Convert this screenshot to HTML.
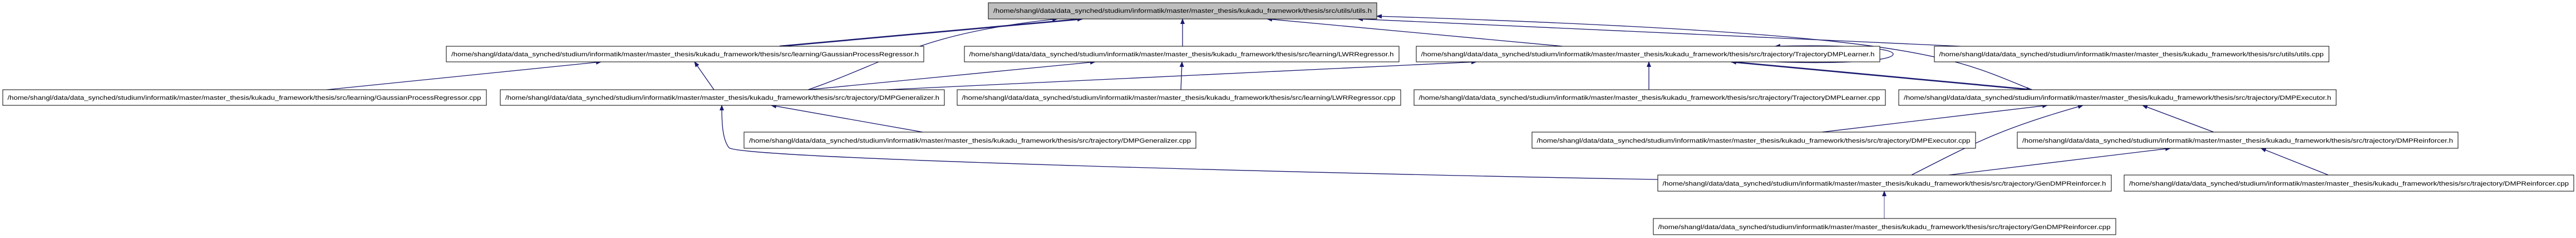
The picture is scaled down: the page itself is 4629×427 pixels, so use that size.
<!DOCTYPE html>
<html><head><meta charset="utf-8"><style>
html,body{margin:0;padding:0;background:#fff;width:4629px;height:427px;overflow:hidden}
text{font-family:"Liberation Sans",sans-serif;font-size:11px;fill:#000}
</style></head><body>
<svg width="4629" height="427" xmlns="http://www.w3.org/2000/svg">
<defs>
<marker id="a" markerWidth="10" markerHeight="8" refX="9" refY="4" orient="auto" markerUnits="userSpaceOnUse">
<path d="M0,0 L10,4 L0,8 z" fill="#191970"/></marker>
</defs>
<g fill="none" stroke="#191970" stroke-width="1.3" marker-end="url(#a)">
<path d="M1401,83 L1945,34" stroke-width="2.5"/>
<path d="M1452,161 C1600,110 1650,60 1900,34"/>
<path d="M2125,83 L2125,34"/>
<path d="M2808,83 L2277,34"/>
<path d="M3523,83 L2440,34"/>
<path d="M3651,161 C3500,100 3450,60 2474,29"/>
<path d="M587,161 L1080,111"/>
<path d="M1283,161 L1248,111"/>
<path d="M1452,161 L1968,111"/>
<path d="M1593,161 L2653,111"/>
<path d="M2122,161 L2124,111"/>
<path d="M2963,161 L2963,111"/>
<path d="M3651,161 L3111,111" stroke-width="2.5"/>
<path d="M3111,111 L3651,161" stroke-width="1.5"/>
<path d="M3190,111 C3300,115 3402,110 3402,97 C3402,85 3300,80 3190,83"/>
<path d="M1658,237 L1386,189"/>
<path d="M2979,322 C2400,312 1330,285 1310,265 C1298,250 1297,220 1297,189"/>
<path d="M3274,237 L3679,189"/>
<path d="M3435,314 C3560,250 3600,230 3743,189"/>
<path d="M3978,237 L3850,189"/>
<path d="M3502,314 L3900,266"/>
<path d="M4184,314 L4063,266"/>
<path d="M3386,392 L3386,343" stroke-width="0.8"/>
</g>
<g stroke="#000" stroke-width="1">
<rect x="1776" y="5" width="698" height="29" fill="#bfbfbf"/>
<rect x="802" y="83" width="858" height="28" fill="#fff"/>
<rect x="1733" y="83" width="781" height="28" fill="#fff"/>
<rect x="2545" y="83" width="833" height="28" fill="#fff"/>
<rect x="3476" y="83" width="709" height="28" fill="#fff"/>
<rect x="5" y="161" width="869" height="28" fill="#fff"/>
<rect x="899" y="161" width="798" height="28" fill="#fff"/>
<rect x="1720" y="161" width="797" height="28" fill="#fff"/>
<rect x="2541" y="161" width="847" height="28" fill="#fff"/>
<rect x="3412" y="161" width="786" height="28" fill="#fff"/>
<rect x="1337" y="237" width="812" height="29" fill="#fff"/>
<rect x="2753" y="237" width="797" height="29" fill="#fff"/>
<rect x="3625" y="237" width="792" height="29" fill="#fff"/>
<rect x="2979" y="314" width="815" height="29" fill="#fff"/>
<rect x="3817" y="314" width="808" height="29" fill="#fff"/>
<rect x="2971" y="392" width="831" height="29" fill="#fff"/>
</g>
<g text-anchor="middle" lengthAdjust="spacingAndGlyphs">
<text x="2125" y="23" textLength="680" lengthAdjust="spacingAndGlyphs">/home/shangl/data/data_synched/studium/informatik/master/master_thesis/kukadu_framework/thesis/src/utils/utils.h</text>
<text x="1231" y="101" textLength="840" lengthAdjust="spacingAndGlyphs">/home/shangl/data/data_synched/studium/informatik/master/master_thesis/kukadu_framework/thesis/src/learning/GaussianProcessRegressor.h</text>
<text x="2123" y="101" textLength="763" lengthAdjust="spacingAndGlyphs">/home/shangl/data/data_synched/studium/informatik/master/master_thesis/kukadu_framework/thesis/src/learning/LWRRegressor.h</text>
<text x="2961" y="101" textLength="815" lengthAdjust="spacingAndGlyphs">/home/shangl/data/data_synched/studium/informatik/master/master_thesis/kukadu_framework/thesis/src/trajectory/TrajectoryDMPLearner.h</text>
<text x="3830" y="101" textLength="691" lengthAdjust="spacingAndGlyphs">/home/shangl/data/data_synched/studium/informatik/master/master_thesis/kukadu_framework/thesis/src/utils/utils.cpp</text>
<text x="439" y="179" textLength="851" lengthAdjust="spacingAndGlyphs">/home/shangl/data/data_synched/studium/informatik/master/master_thesis/kukadu_framework/thesis/src/learning/GaussianProcessRegressor.cpp</text>
<text x="1298" y="179" textLength="780" lengthAdjust="spacingAndGlyphs">/home/shangl/data/data_synched/studium/informatik/master/master_thesis/kukadu_framework/thesis/src/trajectory/DMPGeneralizer.h</text>
<text x="2118" y="179" textLength="779" lengthAdjust="spacingAndGlyphs">/home/shangl/data/data_synched/studium/informatik/master/master_thesis/kukadu_framework/thesis/src/learning/LWRRegressor.cpp</text>
<text x="2964" y="179" textLength="829" lengthAdjust="spacingAndGlyphs">/home/shangl/data/data_synched/studium/informatik/master/master_thesis/kukadu_framework/thesis/src/trajectory/TrajectoryDMPLearner.cpp</text>
<text x="3805" y="179" textLength="768" lengthAdjust="spacingAndGlyphs">/home/shangl/data/data_synched/studium/informatik/master/master_thesis/kukadu_framework/thesis/src/trajectory/DMPExecutor.h</text>
<text x="1743" y="256" textLength="794" lengthAdjust="spacingAndGlyphs">/home/shangl/data/data_synched/studium/informatik/master/master_thesis/kukadu_framework/thesis/src/trajectory/DMPGeneralizer.cpp</text>
<text x="3151" y="256" textLength="779" lengthAdjust="spacingAndGlyphs">/home/shangl/data/data_synched/studium/informatik/master/master_thesis/kukadu_framework/thesis/src/trajectory/DMPExecutor.cpp</text>
<text x="4021" y="256" textLength="774" lengthAdjust="spacingAndGlyphs">/home/shangl/data/data_synched/studium/informatik/master/master_thesis/kukadu_framework/thesis/src/trajectory/DMPReinforcer.h</text>
<text x="3386" y="333" textLength="797" lengthAdjust="spacingAndGlyphs">/home/shangl/data/data_synched/studium/informatik/master/master_thesis/kukadu_framework/thesis/src/trajectory/GenDMPReinforcer.h</text>
<text x="4221" y="333" textLength="790" lengthAdjust="spacingAndGlyphs">/home/shangl/data/data_synched/studium/informatik/master/master_thesis/kukadu_framework/thesis/src/trajectory/DMPReinforcer.cpp</text>
<text x="3386" y="411" textLength="813" lengthAdjust="spacingAndGlyphs">/home/shangl/data/data_synched/studium/informatik/master/master_thesis/kukadu_framework/thesis/src/trajectory/GenDMPReinforcer.cpp</text>
</g>
</svg>
</body></html>
